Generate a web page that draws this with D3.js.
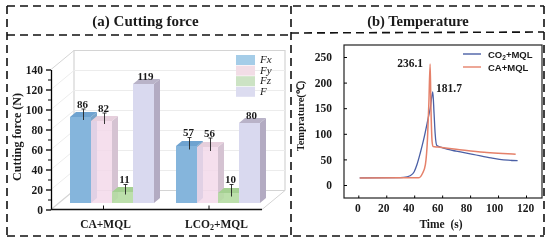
<!DOCTYPE html>
<html>
<head>
<meta charset="utf-8">
<script src="https://cdn.jsdelivr.net/npm/d3@7"></script>
<style>
html,body{margin:0;padding:0;background:#fff}
svg{display:block;filter:blur(.35px)}
text{font-family:"Liberation Serif",serif;font-weight:bold;fill:#1a1a1a}
</style>
</head>
<body>
<svg id="chart" width="550" height="243"></svg>
<script>
// (a) cutting force
const groups = ["CA+MQL","LCO2+MQL"];
const components = ["Fx","Fy","Fz","F"];
const caForce = [86,82,11,119];
const lcoForce = [57,56,10,80];
const caErr = [5.5,5.5,5,0];
const lcoErr = [6,6.5,6,0];
const barColors = ["#85b5dc","#f3d9ea","#b5dba2","#d9d9ef"];
const sideColors = ["#7aa4c8","#d5c3d2","#a3c592","#b3abc2"];
const topColors = ["#6fa3d0","#e6cfdc","#a5d092","#b9b3c8"];
const legendColors = ["#a5cde8","#f2dde6","#cce3c4","#dcdcf0"];
const barOpacity = [1,.85,.9,1];

// (b) temperature
const co2Time = [1,30,35,37,40,42,44.3,46.7,50.2,51.5,53.3,54.2,55,56.2,60,70,82,95,104,114];
const co2Temp = [14,14.5,16,18,26,40,62,88,133,150,181.7,140,100,77,73,66,60,53,49,47.5];
const caTime = [1,30,43,46,48,49.5,50.5,51.4,52,52.8,53.5,57,70,90,100,112.6];
const caTemp = [13.5,14,14,23,40,90,160,236.1,150,85,75,74,70,64,62,60];
const timeLabels = [0,20,40,60,80,100,120];

const svg = d3.select("#chart");

// dashed panel frame
const frame = svg.append("g").attr("fill","none").attr("stroke","#111")
	.attr("stroke-width",1.6).attr("stroke-dasharray","8,5");
[[7,6,544,6],[7,35,291,35],[291,33,544,32],[7,236,544,236],[7,6,7,236],[291,6,291,236],[544,6,544,236]]
	.forEach(l => frame.append("line").attr("x1",l[0]).attr("y1",l[1]).attr("x2",l[2]).attr("y2",l[3]));

svg.append("text").attr("x",145.5).attr("y",25.5).attr("text-anchor","middle")
	.style("font-size","15px").text("(a) Cutting force");
svg.append("text").attr("x",418).attr("y",25.5).attr("text-anchor","middle")
	.style("font-size","14.5px").text("(b) Temperature");

// left panel
const dx = 23, dy = -19;
const Y = d3.scaleLinear().domain([0,140]).range([209.5,69.5]);
const C = d3.scaleBand().domain(components).range([0,84]);
const groupLeft = {"CA+MQL":70,"LCO2+MQL":176};

const wall = svg.append("g");
wall.append("path").attr("fill","#fff").attr("stroke","#d4d4d4").attr("stroke-width",1.2)
	.attr("d",`M51,${Y(0)}L${51+dx},${Y(0)+dy}V${Y(140)+dy}H285V${Y(0)+dy}`);
wall.append("path").attr("fill","none").attr("stroke","#d4d4d4").attr("stroke-width",1)
	.attr("d",`M51,${Y(140)}L${51+dx},${Y(140)+dy}M262,${Y(0)}L285,${Y(0)+dy}M${51+dx},${Y(0)+dy}H285`);
d3.range(20,140,20).forEach(v => {
	wall.append("path").attr("fill","none").attr("stroke","#ececec")
		.attr("d",`M51,${Y(v)}L${51+dx},${Y(v)+dy}H285`);
});

const barBase = 203, depth = 6, depthY = -5;
const H = d3.scaleLinear().domain([0,140]).range([0,140]);

function drawGroup(name,labels,errs){
	const g = svg.append("g");
	const left = groupLeft[name];
	components.forEach((c,i) => {
		const x0 = left + C(c), w = C.bandwidth(), h = H(labels[i]), top = barBase - h;
		g.append("path").attr("fill",sideColors[i])
			.attr("d",`M${x0+w},${top}l${depth},${depthY}V${barBase+depthY}l${-depth},${-depthY}Z`);
		g.append("path").attr("fill",topColors[i])
			.attr("d",`M${x0},${top}l${depth},${depthY}h${w}l${-depth},${-depthY}Z`);
		g.append("rect").attr("x",x0).attr("y",top).attr("width",w).attr("height",h)
			.attr("fill",barColors[i]).attr("fill-opacity",barOpacity[i]);
		const cx = x0 + w/2 + depth/2, cy = top + depthY/2;
		if (errs[i] > 0) {
			g.append("path").attr("fill","none").attr("stroke","#222").attr("stroke-width",.9)
				.attr("d",`M${cx-2},${cy-errs[i]}h4M${cx},${cy-errs[i]}V${cy+errs[i]}`);
		}
		g.append("text").attr("x",cx-1).attr("y",cy-errs[i]-1.5).attr("text-anchor","middle")
			.style("font-size","11px").text(labels[i]);
	});
}
drawGroup("CA+MQL",caForce,caErr);
drawGroup("LCO2+MQL",lcoForce,lcoErr);

const axisY = svg.append("g").attr("transform","translate(51,0)")
	.call(d3.axisLeft(Y).tickValues(d3.range(0,141,20)).tickSize(5).tickSizeOuter(0).tickPadding(3));
axisY.selectAll("text").style("font-size","11.5px");
axisY.selectAll("line,path").attr("stroke-width",1.3);
svg.append("g").attr("transform","translate(51,0)")
	.call(d3.axisLeft(Y).tickValues(d3.range(10,140,20)).tickSize(3).tickSizeOuter(0).tickFormat(""));

svg.append("path").attr("stroke","#111").attr("stroke-width",1.4).attr("fill","none")
	.attr("d",`M51,${Y(0)}H262`);
[103.5,209].forEach(x => svg.append("line").attr("x1",x).attr("x2",x)
	.attr("y1",Y(0)).attr("y2",Y(0)-4).attr("stroke","#111"));
svg.append("text").attr("x",105.5).attr("y",228).attr("text-anchor","middle")
	.style("font-size","11.5px").text("CA+MQL");
const lco = svg.append("text").attr("x",216.5).attr("y",228).attr("text-anchor","middle")
	.style("font-size","11.5px");
lco.append("tspan").text("LCO");
lco.append("tspan").attr("dy",2).style("font-size","8px").text("2");
lco.append("tspan").attr("dy",-2).text("+MQL");

svg.append("text").attr("transform","translate(20.5,137) rotate(-90)").attr("text-anchor","middle")
	.style("font-size","12px").text("Cutting force (N)");

// legend of the left panel
const legendTop = 55;
components.forEach((c,i) => {
	svg.append("rect").attr("x",236).attr("y",legendTop+i*10.6).attr("width",19).attr("height",10)
		.attr("fill",legendColors[i]);
	svg.append("text").attr("x",260).attr("y",legendTop+i*10.6+8)
		.style("font-size","11px").style("font-style","italic").style("font-weight","normal").text(c);
});

// right panel
const TX = d3.scaleLinear().domain([0,120]).range([358.3,526]);
const TY = d3.scaleLinear().domain([0,250]).range([185,57]);
const plotLeft = 344, plotRight = 542, plotTop = 45, plotBottom = 198;

svg.append("rect").attr("x",plotLeft).attr("y",plotTop)
	.attr("width",plotRight-plotLeft).attr("height",plotBottom-plotTop)
	.attr("fill","none").attr("stroke","#222").attr("stroke-width",1.2);

const tempAxis = svg.append("g").attr("transform",`translate(${plotLeft},0)`)
	.call(d3.axisLeft(TY).tickValues(d3.range(0,251,50)).tickSize(-3).tickPadding(12));
tempAxis.select(".domain").remove();
tempAxis.selectAll("text").style("font-size","11.5px");
const timeAxis = svg.append("g").attr("transform",`translate(0,${plotBottom})`)
	.call(d3.axisBottom(TX).tickValues(timeLabels).tickSize(-2.5).tickPadding(5.5));
timeAxis.select(".domain").remove();
// the tick labels sit a little left of their ticks in the original
const labelNudge = [-1,-3,-6,-5,-4,-4,-1];
timeAxis.selectAll("text").style("font-size","11.5px").attr("dx",(d,i)=>labelNudge[i]);

const line = d3.line().curve(d3.curveMonotoneX).x(d=>TX(d[0])).y(d=>TY(d[1]));
svg.append("path").attr("fill","none").attr("stroke","#4a5fa5").attr("stroke-width",1.3)
	.attr("stroke-linejoin","round").attr("d",line(d3.zip(co2Time,co2Temp)));
svg.append("path").attr("fill","none").attr("stroke","#e5816a").attr("stroke-width",1.5)
	.attr("stroke-linejoin","round").attr("d",line(d3.zip(caTime,caTemp)));

svg.append("text").attr("x",423).attr("y",67).attr("text-anchor","end")
	.style("font-size","11.5px").text("236.1");
svg.append("text").attr("x",436).attr("y",92)
	.style("font-size","11.5px").text("181.7");

svg.append("text").attr("transform","translate(304,116) rotate(-90)").attr("text-anchor","middle")
	.style("font-size","10.5px").text("Temprature(℃)");
svg.append("text").attr("x",441).attr("y",228).attr("text-anchor","middle")
	.style("font-size","11.5px").style("white-space","pre").text("Time  (s)");

// legend of the right panel
[["#4a5fa5",54,"CO","2","+MQL"],["#e5816a",67,"CA+MQL","",""]].forEach(d => {
	svg.append("line").attr("x1",463).attr("x2",481).attr("y1",d[1]).attr("y2",d[1])
		.attr("stroke",d[0]).attr("stroke-width",1.4);
	const t = svg.append("text").attr("x",488).attr("y",d[1]+4)
		.style("font-family","'Liberation Sans',sans-serif").style("font-size","9.5px");
	t.append("tspan").text(d[2]);
	if (d[3]) {
		t.append("tspan").attr("dy",2).style("font-size","6.5px").text(d[3]);
		t.append("tspan").attr("dy",-2).text(d[4]);
	}
});
</script>
</body>
</html>
